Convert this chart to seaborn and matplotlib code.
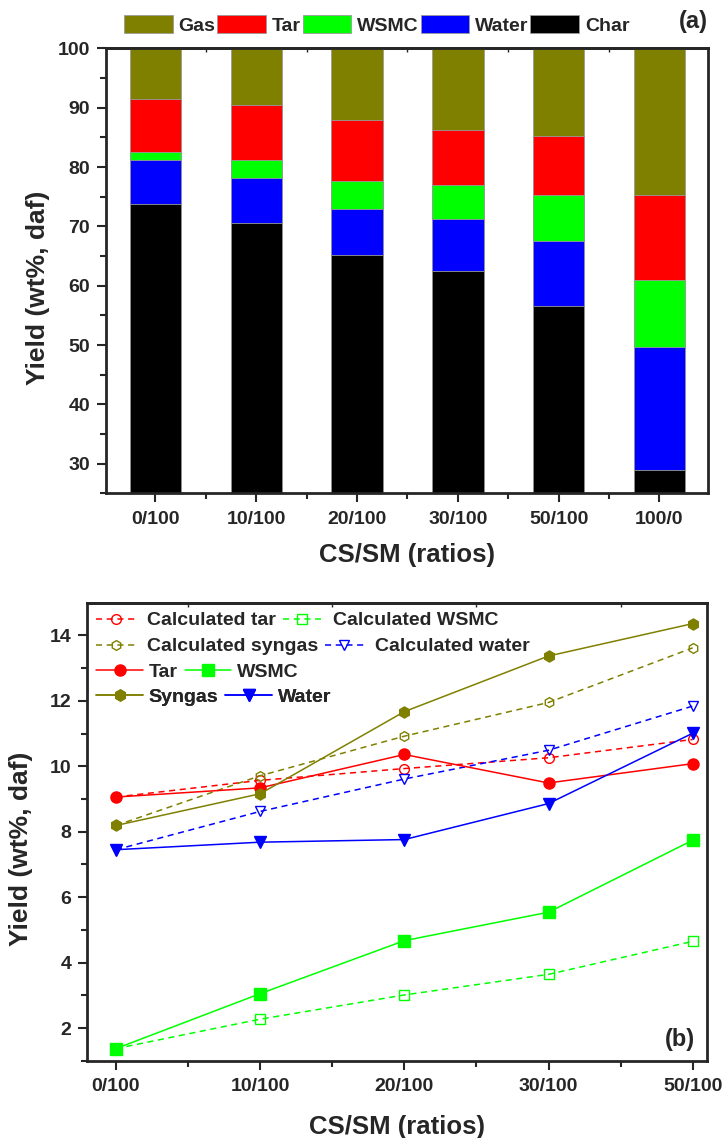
import numpy as np
import matplotlib
matplotlib.use("Agg")
import matplotlib.pyplot as plt
from matplotlib.patches import Patch
import seaborn as sns


ratios_a = ['0/100', '10/100', '20/100', '30/100', '50/100', '100/0']
char = [73.7, 70.5, 65.2, 62.5, 56.6, 29.0]
water = [7.4, 7.6, 7.8, 8.8, 11.0, 20.7]
wsmc = [1.4, 3.1, 4.7, 5.6, 7.7, 11.2]
tar = [9.0, 9.3, 10.3, 9.4, 10.0, 14.4]
gas = [8.5, 9.5, 12.0, 13.7, 14.7, 24.7]

ratios_b = ['0/100', '10/100', '20/100', '30/100', '50/100']
tar_b = [9.06, 9.34, 10.36, 9.49, 10.08]
calc_tar = [9.06, 9.57, 9.93, 10.26, 10.82]
wsmc_b = [1.37, 3.05, 4.67, 5.54, 7.74]
calc_wsmc = [1.37, 2.27, 3.01, 3.64, 4.65]
syngas = [8.19, 9.16, 11.67, 13.37, 14.36]
calc_syngas = [8.19, 9.71, 10.92, 11.95, 13.62]
water_b = [7.45, 7.68, 7.76, 8.86, 11.01]
calc_water = [7.45, 8.62, 9.61, 10.49, 11.84]

OLIVE, RED, GREEN, BLUE = '#808000', '#ff0000', '#00ff00', '#0000ff'

sns.set_style("ticks")
plt.rcParams['font.family'] = ['Liberation Sans', 'DejaVu Sans']
plt.rcParams['font.weight'] = 'bold'
plt.rcParams['axes.labelweight'] = 'bold'
plt.rcParams['axes.linewidth'] = 2.0

fig = plt.figure(figsize=(7.26, 11.38), dpi=100)
ax1 = fig.add_axes([0.146, 0.5665, 0.829, 0.391])
ax2 = fig.add_axes([0.120, 0.0679, 0.854, 0.4025])

# ---- (a) stacked yields, drawn as overlapping cumulative bars
parts = [('Char', char, 'black'), ('Water', water, BLUE), ('WSMC', wsmc, GREEN),
         ('Tar', tar, RED), ('Gas', gas, OLIVE)]
cum = np.cumsum([p[1] for p in parts], axis=0)
for i in range(len(parts) - 1, -1, -1):
    sns.barplot(x=ratios_a, y=cum[i], color=parts[i][2], saturation=1, width=0.51,
                edgecolor='#9a9a9a', linewidth=0.6, ax=ax1)

ax1.set_ylim(25, 100)
ax1.set_xlim(-0.49, 5.48)
ax1.set_yticks(np.arange(30, 101, 10))
ax1.set_yticks(np.arange(25, 100, 5), minor=True)
ax1.set_xticks(np.arange(0.5, 5, 1), minor=True)
ax1.set_xlabel('CS/SM (ratios)', fontsize=18.5)
ax1.set_ylabel('Yield (wt%, daf)', fontsize=19)
ax1.xaxis.set_label_coords(0.5, -0.112)
ax1.yaxis.set_label_coords(-0.093, 0.461)

handles = [Patch(facecolor=c, edgecolor='#9a9a9a', linewidth=0.6, label=n) for n, _, c in parts[::-1]]
fig.legend(handles=handles, loc='center left', bbox_to_anchor=(0.1708, 0.978), ncol=5,
           frameon=False, fontsize=14, handlelength=2.5, handleheight=1.0,
           handletextpad=0.3, columnspacing=0.1, borderpad=0, borderaxespad=0)
ax1.text(1.0, 1.06, '(a)', transform=ax1.transAxes, ha='right', va='center', fontsize=17)

# ---- (b) measured vs calculated yields
xb = np.arange(len(ratios_b))
series = [
    ('Calculated tar', calc_tar, RED, '--', 'o', False),
    ('Calculated WSMC', calc_wsmc, GREEN, '--', 's', False),
    ('Calculated syngas', calc_syngas, OLIVE, '--', 'h', False),
    ('Calculated water', calc_water, BLUE, '--', 'v', False),
    ('Tar', tar_b, RED, '-', 'o', True),
    ('WSMC', wsmc_b, GREEN, '-', 's', True),
    ('Syngas', syngas, OLIVE, '-', 'h', True),
    ('Water', water_b, BLUE, '-', 'v', True),
]
for name, vals, c, ls, mk, filled in series:
    line_style = {'linestyle': '-'} if filled else {'dashes': (4, 3)}
    sns.lineplot(x=xb, y=vals, ax=ax2, color=c, linewidth=1.1, **line_style,
                 marker=mk, markersize=8 if filled else 7,
                 markerfacecolor=c if filled else 'none', markeredgecolor=c,
                 markeredgewidth=1.0, label=name, legend=False)

ax2.set_ylim(1, 15)
ax2.set_xlim(-0.2, 4.1)
ax2.set_xticks(xb)
ax2.set_xticklabels(ratios_b)
ax2.set_xticks(np.arange(0.5, 4, 1), minor=True)
ax2.set_yticks(np.arange(2, 15, 2))
ax2.set_yticks(np.arange(1, 15, 1), minor=True)
ax2.set_xlabel('CS/SM (ratios)', fontsize=18.5)
ax2.set_ylabel('Yield (wt%, daf)', fontsize=19)
ax2.xaxis.set_label_coords(0.5, -0.1186)
ax2.yaxis.set_label_coords(-0.0875, 0.462)
ax2.text(0.9805, 0.047, '(b)', transform=ax2.transAxes, ha='right', va='center', fontsize=17)

lines = ax2.get_lines()
rows = [(0, 1, 0.9607), (2, 3, 0.904), (4, 5, 0.848), (6, 7, 0.794)]
for k, (a, b, y) in enumerate(rows):
    calc = k < 2
    leg = ax2.legend(handles=[lines[a], lines[b]], labels=[series[a][0], series[b][0]],
                     loc='center left', bbox_to_anchor=(0.0148, y), ncol=2, frameon=False,
                     fontsize=14, handlelength=2.0 if calc else 2.4,
                     handletextpad=0.6 if calc else 0.3, columnspacing=0.35,
                     borderpad=0, borderaxespad=0)
    ax2.add_artist(leg)

for ax in (ax1, ax2):
    for s in ax.spines.values():
        s.set_visible(True)
        s.set_linewidth(2.0)
    ax.tick_params(which='major', direction='out', length=6.5, width=1.5, labelsize=14, pad=5)
    ax.tick_params(which='minor', direction='out', length=4, width=1.5)
    ax.tick_params(axis='x', which='major', pad=6)
    # small inward marks on the top frame, between categories
    top = ax.secondary_xaxis('top')
    top.set_xticks(ax.get_xticks(minor=True))
    top.tick_params(direction='in', length=3, width=1.0, labeltop=False)
    top.spines['top'].set_linewidth(2.0)

fig.savefig('out.png', dpi=100)
